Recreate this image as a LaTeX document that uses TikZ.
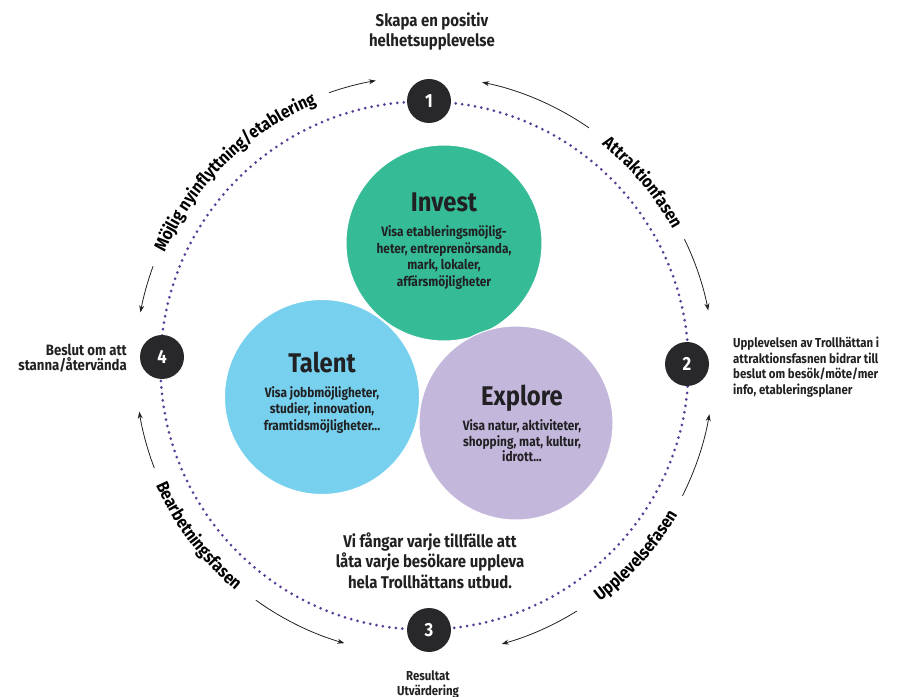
\documentclass[tikz,border=0pt]{standalone}
\usepackage{fontspec}
\setmainfont{Fira Sans}[FakeStretch=0.88]
\usetikzlibrary{arrows.meta,decorations.text,calc}
\definecolor{inv}{RGB}{53,188,151}
\definecolor{tal}{RGB}{118,208,238}
\definecolor{expl}{RGB}{195,183,219}
\definecolor{dotc}{RGB}{88,62,150}
\definecolor{ink}{RGB}{33,33,35}
\definecolor{nodec}{RGB}{40,40,42}
\newcommand\arcfont{\bfseries\fontsize{17.5}{17.5}\selectfont}
\begin{document}
\begin{tikzpicture}[x=1pt,y=1pt,
  stepnum/.style={circle, fill=nodec, minimum size=44pt, inner sep=0pt, text=white,
    font=\bfseries\fontsize{19}{19}\selectfont},
  bubble/.style={circle, draw=white, line width=1pt, inner sep=0pt},
  heading/.style={anchor=base, inner sep=0pt, text=ink, font=\bfseries\fontsize{27}{27}\selectfont},
  sub/.style={align=center, inner sep=0pt, text=ink, font=\bfseries\fontsize{13.5}{16.6}\selectfont},
  lbl/.style={inner sep=0pt, text=ink, font=\bfseries\fontsize{13}{15.6}\selectfont},
  big/.style={align=center, inner sep=0pt, text=ink, font=\bfseries\fontsize{16}{20}\selectfont},
  cyc/.style={draw=dotc, line width=3pt, dash pattern=on 0pt off 6.5pt, line cap=round},
  flow/.style={draw=ink, line width=0.8pt, -{Stealth[length=7pt,width=5pt]}},
  toptext/.style={decorate, decoration={text along path, text align=center,
    text={|\arcfont|#1}}},
]
\useasboundingbox (0,0) rectangle (901,696);
\coordinate (C) at (424.5,330.5);

% dotted cycle
\draw[cyc] (C) circle[radius=264];

% outer arrows
\coordinate (a1) at ($(C)+(109.3:289)$);
\coordinate (a2) at ($(C)+(55.3:289)$);
\coordinate (a3) at ($(C)+(25.9:289)$);
\coordinate (a4) at ($(C)+(-26.8:289)$);
\coordinate (a5) at ($(C)+(-58.2:289)$);
\coordinate (a6) at ($(C)+(-125.7:289)$);
\coordinate (a7) at ($(C)+(200.8:289)$);
\coordinate (a8) at ($(C)+(159.9:289)$);
\draw[flow] (a1) arc[start angle=109.3, end angle=99.7, radius=289];
\draw[flow] (a2) arc[start angle=55.3, end angle=78.5, radius=289];
\draw[flow] (a3) arc[start angle=25.9, end angle=11, radius=289];
\draw[flow] (a4) arc[start angle=-26.8, end angle=-9.7, radius=289];
\draw[flow] (a5) arc[start angle=-58.2, end angle=-74.5, radius=289];
\draw[flow] (a6) arc[start angle=-125.7, end angle=-106.1, radius=289];
\draw[flow] (a7) arc[start angle=200.8, end angle=189.2, radius=289];
\draw[flow] (a8) arc[start angle=159.9, end angle=169.4, radius=289];

% curved phase labels
\path[toptext={Möjlig nyinflyttning/etablering}] ($(C)+(172:283)$) arc[start angle=172, end angle=97, radius=283];
\path[toptext={Attraktionfasen}] ($(C)+(75:283)$) arc[start angle=75, end angle=5, radius=283];
\path[toptext={Upplevelsefasen}] ($(C)+(-77:294)$) arc[start angle=-77, end angle=-7, radius=294];
\path[toptext={Bearbetningsfasen}] ($(C)+(182:294)$) arc[start angle=182, end angle=252, radius=294];

% step nodes
\node[stepnum] (n1) at (429,595) {1};
\node[stepnum] (n2) at (687,332) {2};
\node[stepnum] (n3) at (429,66) {3};
\node[stepnum] (n4) at (162,339) {4};

% bubbles
\node[bubble, fill=inv, minimum size=196pt] (invest) at (444,453) {};
\node[bubble, fill=tal, minimum size=195pt] (talent) at (322,299) {};
\node[bubble, fill=expl, minimum size=194pt] (explore) at (516,273) {};

\node[heading] (investT) at (444,484) {Invest};
\node[sub] (investS) at (444,438.5) {Visa etableringsmöjlig-\\heter, entreprenörsanda,\\mark, lokaler,\\affärsmöjligheter};
\node[heading] (talentT) at (322,323) {Talent};
\node[sub] (talentS) at (322,286) {Visa jobbmöjligheter,\\studier, innovation,\\framtidsmöjligheter...};
\node[heading] (exploreT) at (522,290) {Explore};
\node[sub, font=\bfseries\fontsize{13.5}{15.6}\selectfont] (exploreS) at (522,255) {Visa natur, aktiviteter,\\shopping, mat, kultur,\\idrott...};

% texts
\node[big, font=\bfseries\fontsize{17}{20}\selectfont] (title) at (432,664.5) {Skapa en positiv\\helhetsupplevelse};
\node[big, font=\bfseries\fontsize{17}{20.5}\selectfont] (centre) at (430,135.5) {Vi fångar varje tillfälle att\\låta varje besökare uppleva\\hela Trollhättans utbud.};
\node[lbl, align=left, anchor=west] (l2) at (733,329) {Upplevelsen av Trollhättan i\\attraktionsfasnen bidrar till\\beslut om besök/möte/mer\\info, etableringsplaner};
\node[lbl, align=right, anchor=east, font=\bfseries\fontsize{15}{15.5}\selectfont] (l4) at (127,338) {Beslut om att\\stanna/återvända};
\node[lbl, align=center] (l3) at (428,11.5) {Resultat\\Utvärdering};
\end{tikzpicture}
\end{document}
